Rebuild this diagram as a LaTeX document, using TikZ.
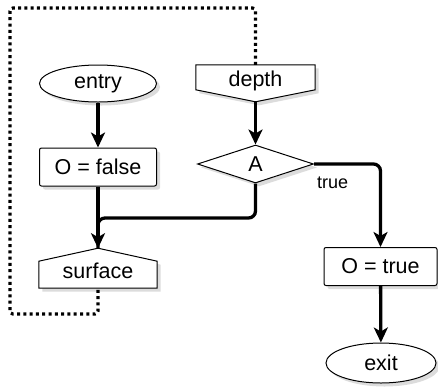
\documentclass[tikz,border=0pt]{standalone}
\usepackage{fontspec}
\setmainfont{Liberation Sans}
\usepackage{tikz}
\usetikzlibrary{shapes,arrows.meta,shadows,calc}
\pgfdeclarelayer{bg}
\pgfsetlayers{bg,main}
\def\boxfont{\fontsize{21.5}{24}\selectfont}

\begin{document}
\begin{tikzpicture}[x=1pt,y=-1pt,
  shadowed/.style={drop shadow={shadow xshift=3.5pt,shadow yshift=-3.5pt,fill=black!30,opacity=0.45}},
  term/.style={ellipse,draw,line width=1pt,fill=white,shadowed,inner sep=0pt,
    minimum width=117pt,minimum height=37pt,font=\boxfont},
  act/.style={rectangle,rounded corners=2pt,draw,line width=1pt,fill=white,shadowed,
    inner sep=0pt,minimum width=117pt,minimum height=38pt,font=\boxfont},
  dec/.style={diamond,draw,line width=1pt,fill=white,shadowed,inner sep=0pt,
    minimum width=116pt,minimum height=38pt,font=\boxfont},
  port/.style={rectangle,inner sep=0pt,minimum width=119pt,font=\boxfont},
  portline/.style={draw,line width=1pt,fill=white,shadowed,line join=miter},
  flow/.style={line width=3.3pt,-{Stealth[length=15pt,width=14pt,inset=4pt]}},
  plain/.style={line width=3.3pt,rounded corners=7pt},
  loopback/.style={line width=3.2pt,dash pattern=on 3pt off 3.3pt,rounded corners=3pt}]
  \useasboundingbox (0,0) rectangle (438,386);
  % terminals, actions, decision
  \node[term] (entry) at (98,83.5) {entry};
  \node[act] (ofalse) at (98,167) {O = false};
  \node[dec] (A) at (255.5,164) {A};
  \node[act,minimum width=113pt] (otrue) at (380.5,266.5) {O = true};
  \node[term,minimum width=110pt,minimum height=40pt] (exit) at (381,363) {exit};
  % off-page connectors
  \node[port,minimum height=32pt] (depth) at (255.5,81) {depth};
  \coordinate (dtip) at ($(depth.north)+(0,37)$);
  \node[port,minimum height=35pt,minimum width=118pt] (surface) at (98,270.5) {surface};
  \coordinate (stip) at ($(surface.south)+(0,-40)$);
  \begin{pgfonlayer}{bg}
    \path[portline] (depth.north west) -- (depth.north east) -- ++(0,25)
      -- (dtip) -- ($(depth.north west)+(0,25)$) -- cycle;
    \path[portline] (surface.south west) -- ++(0,-27) -- (stip)
      -- ($(surface.south east)+(0,-27)$) -- (surface.south east) -- cycle;
  \end{pgfonlayer}
  % connectors
  \coordinate (join) at (98,218); \coordinate (lt) at (10,8); \coordinate (lb) at (10,314);
  \foreach \a/\b in {entry/ofalse,dtip/A,otrue/exit} \draw[flow] (\a) -- (\b);
  \draw[flow] (ofalse) -- (stip);
  \draw[plain] (A.south) |- (join) -- (stip);
  \draw[flow,rounded corners=7pt] (A.east) -| node[pos=0.14,below=8pt,font=\fontsize{18}{20}\selectfont]
    (truelbl) {true} (otrue.north);
  \draw[loopback] (depth.north) |- (lt) |- (surface.south |- lb) -- (surface.south);
\end{tikzpicture}
\end{document}
